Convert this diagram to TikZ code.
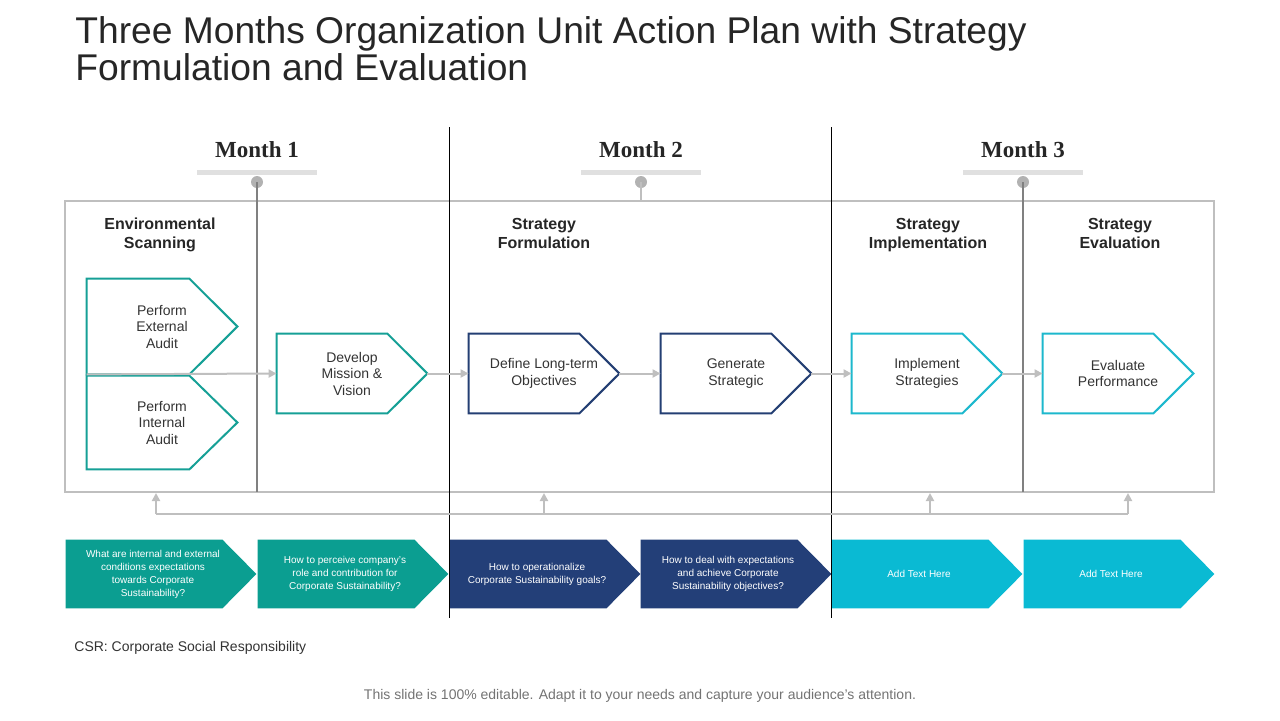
\documentclass[tikz,border=0pt]{standalone}
\usepackage{fontspec}
\setmainfont{Liberation Sans}
\newfontfamily\monthfont{Liberation Serif}
\usetikzlibrary{arrows.meta,positioning,backgrounds}
\definecolor{tealc}{HTML}{16A096}
\definecolor{navyc}{HTML}{243F73}
\definecolor{cyanc}{HTML}{1DB8CD}
\definecolor{tealf}{HTML}{0B9E91}
\definecolor{navyf}{HTML}{233F78}
\definecolor{cyanf}{HTML}{0ABAD3}
\colorlet{lineGray}{black!25}
\tikzset{
  chevbox/.style={minimum width=75pt, minimum height=#1, inner sep=0pt,
    align=center, font=\fontsize{7}{8.25}\selectfont, text=black!80},
  qbox/.style={minimum width=95pt, minimum height=34pt, inner sep=0pt,
    align=center, font=\fontsize{5}{6.5}\selectfont, text=white},
  head/.style={anchor=north, align=center, font=\fontsize{8}{9.5}\selectfont\bfseries, text=black!85},
  monthlbl/.style={font=\monthfont\fontsize{11.5}{13}\selectfont\bfseries, text=black!85},
  flow/.style={lineGray, line width=1pt, -{Triangle[length=4pt,width=4pt]}},
}
% outlined chevron: name, point depth, colour
\newcommand{\chevron}[3]{%
  \draw[#3, line width=1pt] (#1.north west) -- ([xshift=-#2]#1.north east) -- (#1.east)
    -- ([xshift=-#2]#1.south east) -- (#1.south west) -- cycle;}
% filled chevron behind a question node
\newcommand{\chevfill}[2]{%
  \begin{pgfonlayer}{background}
  \fill[#2] ([xshift=4pt]#1.north west) -- ([xshift=-13pt]#1.north east) -- ([xshift=4pt]#1.east)
    -- ([xshift=-13pt]#1.south east) -- ([xshift=4pt]#1.south west) -- cycle;
  \end{pgfonlayer}}
\begin{document}
\begin{tikzpicture}[x=0.5pt,y=-0.5pt]
    \useasboundingbox (0,0) rectangle (1280,720);

    % title
    \node[anchor=west, align=left, inner sep=0pt, font=\fontsize{18.6}{18.5}\selectfont, text=black!85] (title) at (75,49)
      {Three Months Organization Unit Action Plan with Strategy\\Formulation and Evaluation};

    % frame and month dividers
    \draw[lineGray, line width=1pt] (65,201) rectangle (1214,492);
    \draw[black, line width=0.5pt] (449,127) -- (449,618);
    \draw[black, line width=0.5pt] (831,127) -- (831,618);

    % month labels
    \node[monthlbl] (m1) at (257,150) {Month 1};
    \node[monthlbl] (m2) at (641,150) {Month 2};
    \node[monthlbl] (m3) at (1023,150) {Month 3};
    \foreach \x in {257,641,1023} {
      \draw[black!12, line width=2.5pt] (\x-60,172) -- (\x+60,172);
      \fill[black!30] (\x,182) circle (3pt);
    }
    \draw[black!50, line width=1pt] (257,182) -- (257,492);
    \draw[lineGray, line width=0.6pt] (641,182) -- (641,201);
    \draw[black!50, line width=1pt] (1023,182) -- (1023,492);

    % section headings
    \node[head] (h1) at (160,211) {Environmental\\Scanning};
    \node[head] (h2) at (544,211) {Strategy\\Formulation};
    \node[head] (h3) at (928,211) {Strategy\\Implementation};
    \node[head] (h4) at (1120,211) {Strategy\\Evaluation};

    % process chevrons
    \node[chevbox=47.5pt] (ext) at (162,326.5) {Perform\\External\\Audit};
    \node[chevbox=46.5pt] (int) at (162,422.5) {Perform\\Internal\\Audit};
    \node[chevbox=39.5pt] (dev) at (352,373.5) {Develop\\Mission \&\\Vision};
    \node[chevbox=39.5pt] (obj) at (544,373.5) {Define Long-term\\Objectives};
    \node[chevbox=39.5pt] (gen) at (736,373.5) {Generate\\Strategic};
    \node[chevbox=39.5pt] (imp) at (927,373.5) {Implement\\Strategies};
    \node[chevbox=39.5pt] (eva) at (1118,373.5) {Evaluate\\Performance};
    \chevron{ext}{24pt}{tealc}
    \chevron{int}{24pt}{tealc}
    \chevron{dev}{20pt}{tealc}
    \chevron{obj}{20pt}{navyc}
    \chevron{gen}{20pt}{navyc}
    \chevron{imp}{20pt}{cyanc}
    \chevron{eva}{20pt}{cyanc}

    % flow arrows
    \draw[flow] (ext.south west) -- (dev.west);
    \draw[flow] (dev.east) -- (obj.west);
    \draw[flow] (obj.east) -- (gen.west);
    \draw[flow] (gen.east) -- (imp.west);
    \draw[flow] (imp.east) -- (eva.west);

    % feedback line
    \coordinate (fb1) at (156,514);
    \coordinate (fb4) at (1128,514);
    \draw[lineGray, line width=1pt] (fb1) -- (fb4);
    \foreach \x in {156,544,930,1128}
      \draw[flow] (\x,514) -- (\x,493);

    % question chevrons
    \node[qbox] (q1) at (153,574) {What are internal and external\\conditions expectations\\towards Corporate\\Sustainability?};
    \node[qbox] (q2) at (345,574) {How to perceive company's\\role and contribution for\\Corporate Sustainability?};
    \node[qbox] (q3) at (537,574) {How to operationalize\\Corporate Sustainability goals?};
    \node[qbox] (q4) at (728,574) {How to deal with expectations\\and achieve Corporate\\Sustainability objectives?};
    \node[qbox] (q5) at (919,574) {Add Text Here};
    \node[qbox] (q6) at (1111,574) {Add Text Here};
    \chevfill{q1}{tealf}
    \chevfill{q2}{tealf}
    \chevfill{q3}{navyf}
    \chevfill{q4}{navyf}
    \chevfill{q5}{cyanf}
    \chevfill{q6}{cyanf}

    % notes
    \node[anchor=west, inner sep=0pt, font=\fontsize{7}{8}\selectfont, text=black!80] (csr) at (74,648)
      {CSR: Corporate Social Responsibility};
    \node[font=\fontsize{7}{8}\selectfont, text=black!55] (foot) at (640,696)
      {This slide is 100\% editable. Adapt it to your needs and capture your audience's attention.};
\end{tikzpicture}
\end{document}
